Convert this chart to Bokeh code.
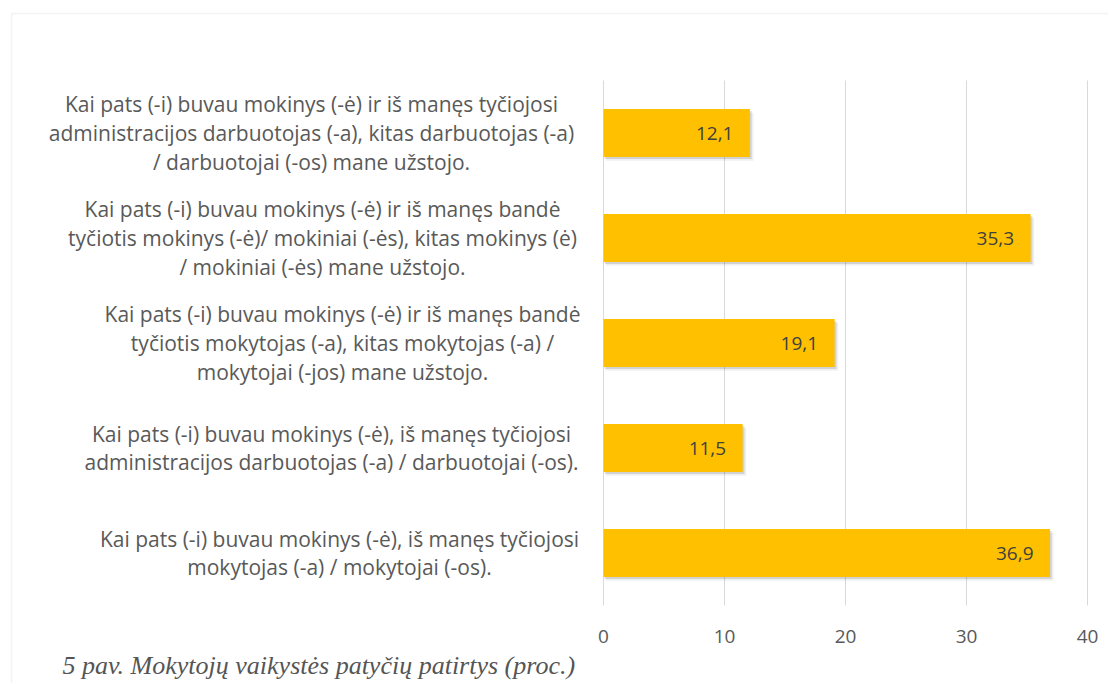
from bokeh.plotting import figure
from bokeh.models import Range1d, BoxAnnotation, ColumnDataSource
from bokeh.core.properties import value
from bokeh.embed import file_html
from bokeh.resources import INLINE

# ---------------- data ----------------
categories = [
    "Kai pats (-i) buvau mokinys (-ė) ir iš manęs tyčiojosi\nadministracijos darbuotojas (-a), kitas darbuotojas (-a)\n/ darbuotojai (-os) mane užstojo.",
    "Kai pats (-i) buvau mokinys (-ė) ir iš manęs bandė\ntyčiotis mokinys (-ė)/ mokiniai (-ės), kitas mokinys (ė)\n/ mokiniai (-ės) mane užstojo.",
    "Kai pats (-i) buvau mokinys (-ė) ir iš manęs bandė\ntyčiotis mokytojas (-a), kitas mokytojas (-a) /\nmokytojai (-jos) mane užstojo.",
    "Kai pats (-i) buvau mokinys (-ė), iš manęs tyčiojosi\nadministracijos darbuotojas (-a) / darbuotojai (-os).",
    "Kai pats (-i) buvau mokinys (-ė), iš manęs tyčiojosi\nmokytojas (-a) / mokytojai (-os).",
]
values = [12.1, 35.3, 19.1, 11.5, 36.9]
value_labels = ["12,1", "35,3", "19,1", "11,5", "36,9"]
x_ticks = [0, 10, 20, 30, 40]
x_tick_labels = ["0", "10", "20", "30", "40"]
caption = "5 pav. Mokytojų vaikystės patyčių patirtys (proc.)"

# ---------------- layout (pixels) ----------------
W, H = 1108, 683
PLOT_LEFT, PLOT_RIGHT = 603, 1087      # pixel of x=0 and x=40
PLOT_TOP, PLOT_BOTTOM = 80, 605        # pixel rows of the category band
label_centers_px = [311, 322, 342, 331, 339]

FONT = "Open Sans"
GREY = "#595959"

n = len(categories)
x_max = x_ticks[-1]
ppu = (PLOT_RIGHT - PLOT_LEFT) / x_max          # pixels per x unit
band = (PLOT_BOTTOM - PLOT_TOP) / n             # pixels per category

def px2x(px):
    return (px - PLOT_LEFT) / ppu

def px2y(py):
    # category i sits at y = n-1-i ; band edges at -0.5 and n-0.5
    return (n - 0.5) - (py - PLOT_TOP) / band

ys = [n - 1 - i for i in range(n)]

p = figure(
    width=W, height=H,
    x_range=Range1d(px2x(0), px2x(W)),
    y_range=Range1d(px2y(H), px2y(0)),
    output_backend="svg", toolbar_location=None,
    min_border=0,
)
p.axis.visible = False
p.grid.visible = False
p.outline_line_color = None
p.background_fill_color = "white"
p.border_fill_color = "white"

# vertical gridlines at the ticks, across the category band
p.segment(x0=x_ticks, x1=x_ticks, y0=[-0.5] * len(x_ticks), y1=[n - 0.5] * len(x_ticks),
          line_color="#d9d9d9", line_width=1)

src = ColumnDataSource(dict(
    y=ys, vals=values, labels=value_labels, cats=categories,
    sh_y1=[y - 0.035 for y in ys], sh_y2=[y - 0.02 for y in ys],
    sh_r1=[v + 0.3 for v in values], sh_r2=[v + 0.15 for v in values],
    cx=[c - PLOT_LEFT for c in label_centers_px],
))

# soft shadow under the bars
p.hbar(y="sh_y1", left=0.2, right="sh_r1", height=0.457, source=src,
       fill_color="#000000", fill_alpha=0.06, line_color=None)
p.hbar(y="sh_y2", left=0.1, right="sh_r2", height=0.457, source=src,
       fill_color="#000000", fill_alpha=0.12, line_color=None)
p.hbar(y="y", left=0, right="vals", height=0.457, source=src,
       fill_color="#FFC000", line_color=None)

# value labels inside bar ends
p.text(x="vals", y="y", text="labels", source=src, x_offset=-16.5,
       text_align="right", text_baseline="middle",
       text_font=value(FONT), text_font_size="19px", text_color="#404040")

# category labels (multi-line, centred lines)
p.text(x=0, y="y", text="cats", source=src, x_offset="cx",
       text_align="center", text_baseline="middle",
       text_font=value(FONT), text_font_size="21px", text_color=GREY,
       text_line_height=1.02)

# x tick labels
p.text(x=x_ticks, y=[px2y(636)] * len(x_ticks), text=x_tick_labels,
       text_align="center", text_baseline="middle",
       text_font=value(FONT), text_font_size="19px", text_color=GREY)

# caption
p.text(x=[px2x(62)], y=[px2y(665)], text=[caption],
       text_align="left", text_baseline="alphabetic",
       text_font=value("Liberation Serif"), text_font_style="italic",
       text_font_size="26px", text_color="#555555")

# light frame around the chart area
p.add_layout(BoxAnnotation(left=px2x(11), right=px2x(W + 50),
                           top=px2y(13), bottom=px2y(H + 50),
                           fill_color=None, fill_alpha=0,
                           line_color="#d6d6d6", line_width=1.5))

open("out.html", "w").write(file_html(p, INLINE))
